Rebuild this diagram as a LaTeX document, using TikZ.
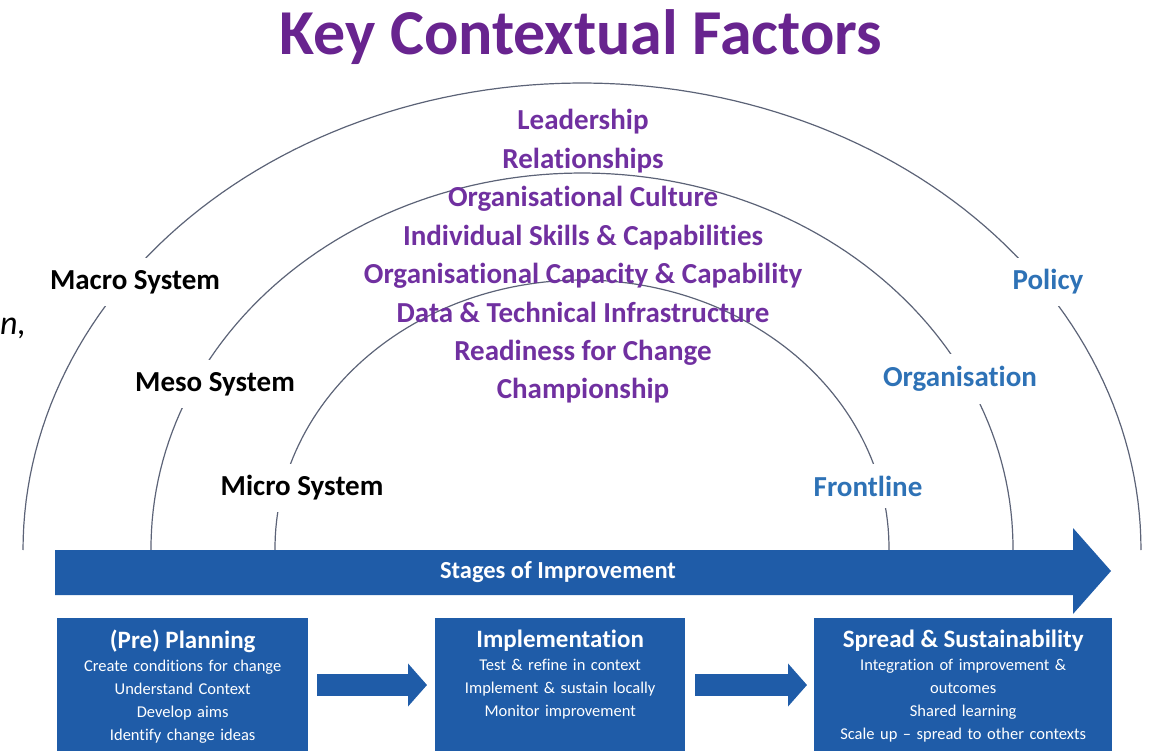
\documentclass[tikz,border=0pt]{standalone}
\usepackage{fontspec}
\setmainfont{Carlito}[Ligatures=NoCommon]
\usetikzlibrary{arrows.meta}

\definecolor{stageblue}{HTML}{1F5CA8}
\definecolor{levelblue}{HTML}{2E72B6}
\definecolor{factorpurple}{HTML}{7030A0}
\definecolor{titlepurple}{HTML}{68248F}
\definecolor{arcgray}{HTML}{5C6377}

\tikzset{
  syslabel/.style={fill=white, inner xsep=4pt, inner ysep=12pt, font=\fontsize{29}{30}\selectfont\bfseries},
  factor/.style={text=factorpurple, anchor=base, inner sep=0pt, font=\fontsize{29}{30}\selectfont\bfseries},
  stagebox/.style={fill=stageblue, text=white, anchor=north west, text width=#1, align=center,
    inner xsep=0pt, inner ysep=12pt, text depth=130pt, font=\fontsize{16.5}{23}\selectfont},
  flowarrow/.style={stageblue, line width=22pt, -{Triangle[length=19pt,width=42pt]}},
}

\begin{document}
\begin{tikzpicture}[x=1pt, y=-1pt]

\def\cx{582}
\useasboundingbox (0,0) rectangle (1153,751);

% Titre
  \node[text=titlepurple, anchor=base, font=\fontsize{64}{64}\selectfont\bfseries] (title) at (581,55) {Key Contextual Factors};
  \node[anchor=base west, inner sep=0pt, font=\fontsize{34}{34}\selectfont\itshape] (cut) at (0,334) {n,};

% Arcs
  \draw[arcgray, line width=1.2pt] plot[domain=180:0, samples=120] ({\cx+559*cos(\x)},{550-467*sin(\x)});
  \foreach \a/\b in {431/375, 307/268}
  \draw[arcgray, line width=1.2pt] plot[domain=182:-2, samples=120] ({\cx+\a*cos(\x)},{548-\b*sin(\x)});

% Labels
  \node[syslabel] (macro) at (135,282) {Macro System};
  \node[syslabel] (meso) at (215,384) {Meso System};
  \node[syslabel] (micro) at (302,488) {Micro System};
  \node[syslabel, text=levelblue] (policy) at (1048,282) {Policy};
  \node[syslabel, text=levelblue] (org) at (960,379) {Organisation};
  \node[syslabel, text=levelblue] (front) at (868,486) {Frontline};

  \foreach \i/\txt in {0/Leadership, 1/Relationships, 2/Organisational Culture,
    3/Individual Skills \& Capabilities, 4/Organisational Capacity \& Capability,
    5/Data \& Technical Infrastructure, 6/Readiness for Change, 7/Championship}
  \node[factor] (f\i) at (583,{130+38.4*\i}) {\txt};

% Fleche
  \fill[stageblue] (55,550) -- (1073,550) -- (1073,528) -- (1111,571) -- (1073,614) -- (1073,595) -- (55,595) -- cycle;
  \node[text=white, font=\fontsize{24.5}{25}\selectfont\bfseries] (stages) at (558,572) {Stages of Improvement};

% Etapes
  \node[stagebox=251pt] (plan) at (57,618) {{\fontsize{25}{23}\selectfont\bfseries (Pre) Planning}\\
    Create conditions for change\\ Understand Context\\ Develop aims\\ Identify change ideas};
  \node[stagebox=250pt] (impl) at (435,618) {{\fontsize{25}{23}\selectfont\bfseries Implementation}\\
    Test \& refine in context\\ Implement \& sustain locally\\ Monitor improvement};
  \node[stagebox=298pt] (spread) at (814,618) {{\fontsize{25}{23}\selectfont\bfseries Spread \& Sustainability}\\
    Integration of improvement \&\\ outcomes\\ Shared learning\\ Scale up -- spread to other contexts};

  \draw[flowarrow] ([shift={(9,67)}]plan.north east) -- ([shift={(-8,67)}]impl.north west);
  \draw[flowarrow] ([shift={(10,67)}]impl.north east) -- ([shift={(-7,67)}]spread.north west);
\end{tikzpicture}
\end{document}
